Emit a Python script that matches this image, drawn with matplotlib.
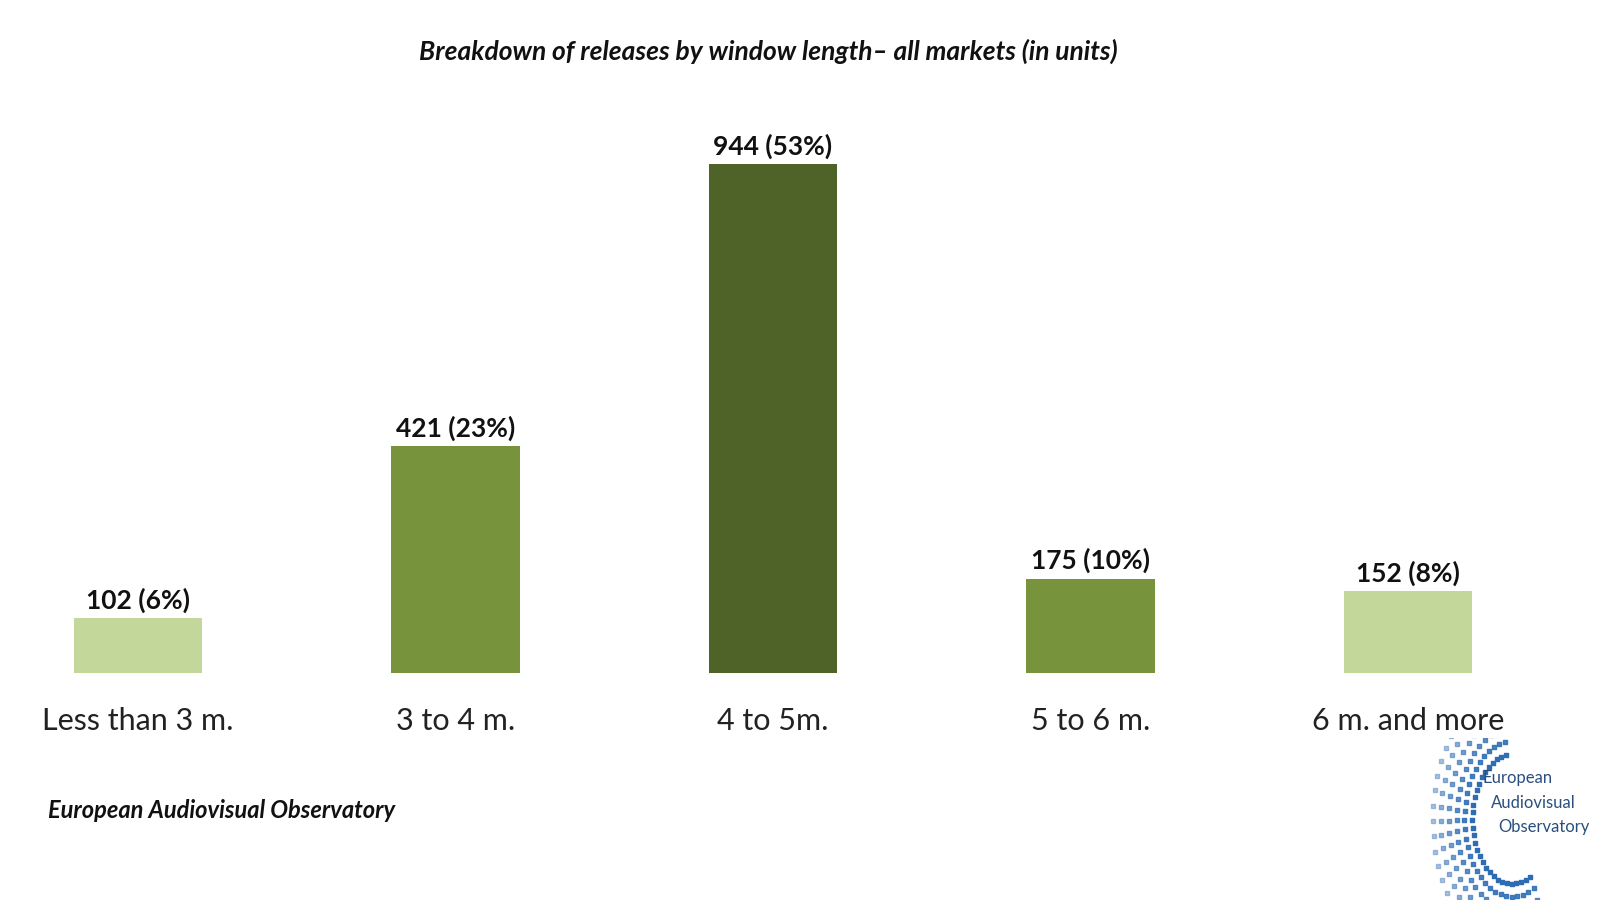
import matplotlib
matplotlib.use("Agg")
import matplotlib.pyplot as plt
import numpy as np

plt.rcParams['font.family'] = ['Lato', 'DejaVu Sans']

categories = ["Less than 3 m.", "3 to 4 m.", "4 to 5m.", "5 to 6 m.", "6 m. and more"]
values = [102, 421, 944, 175, 152]
shares = [6, 23, 53, 10, 8]
colors = ["#c4d79b", "#77933c", "#4f6228", "#77933c", "#c4d79b"]

fig = plt.figure(figsize=(16, 9), dpi=100)
ax = fig.add_axes([0, 227/900, 1, 573/900])
x = np.arange(len(categories))
ax.bar(x, values, width=0.406, color=colors)
ax.set_xlim(-138/317.5, (1600-138)/317.5)
ax.set_ylim(0, 944*573/509)
for xi, v, s in zip(x, values, shares):
    ax.text(xi, v + 10, f"{v} ({s}%)", ha="center", va="bottom", fontsize=19, fontweight="bold", color="#111111")
for xi, c in zip(x, categories):
    ax.text(xi, -63, c, ha="center", va="top", fontsize=22, color="#222222")
ax.axis("off")

fig.text(0.48, 0.943, "Breakdown of releases by window length\u2013 all markets (in units)",
         ha="center", va="center", fontsize=19, fontweight="bold", style="italic", color="#111111")
fig.text(0.03, 0.099, "European Audiovisual Observatory", ha="left", va="center",
         fontsize=17, fontweight="bold", style="italic", color="#111111")

# logo
lax = fig.add_axes([0.89, 0.0, 0.11, 0.18])
lax.set_xlim(0, 1); lax.set_ylim(0, 1); lax.axis("off")
for r, a in zip(np.linspace(0.25, 0.5, 6), np.linspace(1, 0.4, 6)):
    th = np.linspace(np.pi*0.55, np.pi*1.65, 30)
    lax.scatter(0.5 + r*np.cos(th)*0.9, 0.5 + r*np.sin(th)*1.6, s=6, color="#2e6db4", alpha=a, marker="s")
lax.text(0.33, 0.72, "European", fontsize=12, color="#2a4f7f")
lax.text(0.38, 0.57, "Audiovisual", fontsize=12, color="#2a4f7f")
lax.text(0.42, 0.42, "Observatory", fontsize=12, color="#2a4f7f")

fig.savefig("out.png", dpi=100)
